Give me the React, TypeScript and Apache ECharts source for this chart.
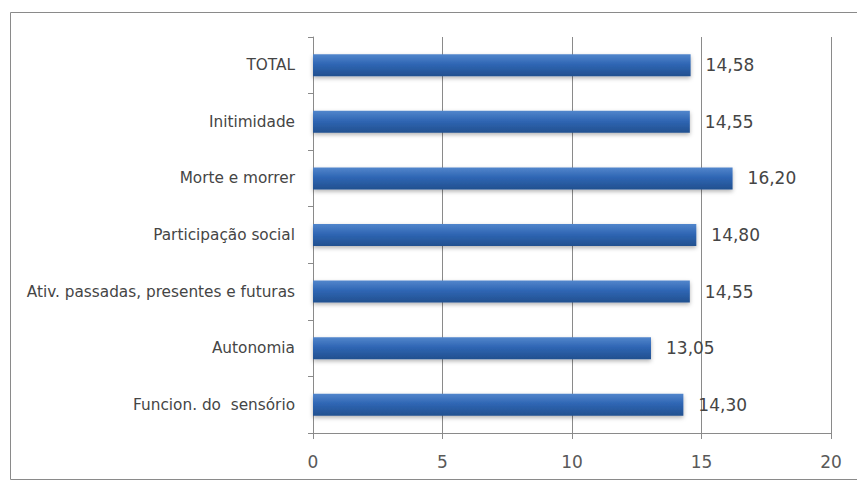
import React, { useEffect, useRef } from "react";
import * as echarts from "echarts";

const categories = [
  "Funcion. do  sensório",
  "Autonomia",
  "Ativ. passadas, presentes e futuras",
  "Participação social",
  "Morte e morrer",
  "Initimidade",
  "TOTAL",
];
const values = [14.3, 13.05, 14.55, 14.8, 16.2, 14.55, 14.58];
const xTicks = [0, 5, 10, 15, 20];

export default function App() {
  const ref = useRef<HTMLDivElement>(null);
  useEffect(() => {
    document.body.style.margin = "0";
    const chart = echarts.init(ref.current!, undefined, { renderer: "svg" });
    chart.setOption({
      animation: false,
      backgroundColor: "#ffffff",
      graphic: [
        {
          type: "rect",
          shape: { x: 10.5, y: 12.5, width: 860, height: 467 },
          style: { fill: "none", stroke: "#8a8a8a", lineWidth: 1 },
          silent: true,
        },
      ],
      grid: { left: 313, right: 26, top: 37, bottom: 48, containLabel: false },
      xAxis: {
        type: "value",
        min: xTicks[0],
        max: xTicks[xTicks.length - 1],
        interval: 5,
        axisLine: { show: true, lineStyle: { color: "#8a8a8a" } },
        axisTick: { show: true, length: 6, lineStyle: { color: "#8a8a8a" } },
        splitLine: { show: true, lineStyle: { color: "#8a8a8a", width: 1 } },
        axisLabel: {
          color: "#595959",
          fontFamily: "DejaVu Sans",
          fontSize: 17,
          margin: 20,
        },
      },
      yAxis: {
        type: "category",
        data: categories,
        axisLine: { show: true, lineStyle: { color: "#8a8a8a" } },
        axisTick: { show: true, length: 5, lineStyle: { color: "#8a8a8a" } },
        axisLabel: {
          color: "#454545",
          fontFamily: "DejaVu Sans",
          fontSize: 15.3,
          margin: 18,
        },
      },
      series: [
        {
          type: "bar",
          data: values,
          barWidth: 22,
          itemStyle: {
            color: new echarts.graphic.LinearGradient(0, 0, 0, 1, [
              { offset: 0, color: "#5286cc" },
              { offset: 0.45, color: "#2f66b4" },
              { offset: 1, color: "#22508f" },
            ]),
            shadowColor: "rgba(0,0,0,0.3)",
            shadowBlur: 4,
            shadowOffsetY: 2,
          },
          label: {
            show: true,
            position: "right",
            distance: 15,
            color: "#454545",
            fontFamily: "DejaVu Sans",
            fontSize: 17,
            formatter: (p: any) => p.value.toFixed(2).replace(".", ","),
          },
        },
      ],
    });
    return () => chart.dispose();
  }, []);
  return <div ref={ref} style={{ width: 857, height: 481 }} />;
}
